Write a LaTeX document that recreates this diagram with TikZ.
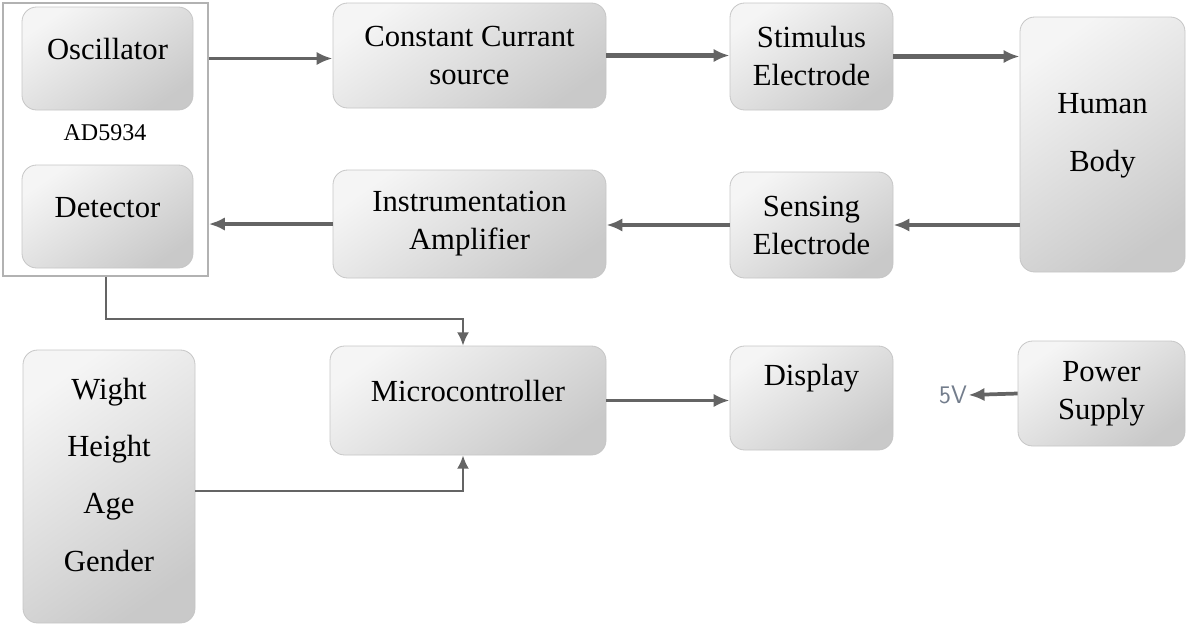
\documentclass[tikz,border=0pt]{standalone}
\usepackage{fontspec}
\setmainfont{Liberation Serif}
\usetikzlibrary{arrows.meta,positioning,calc}
\definecolor{wirecol}{RGB}{100,100,100}
\definecolor{voltcol}{RGB}{115,125,140}

\begin{document}
\begin{tikzpicture}[x=0.75pt,y=-0.75pt,
  box/.style 2 args={minimum width=#1*0.75pt,minimum height=#2*0.75pt},
  wire/.style={draw=wirecol,line width=2.8pt,-{Latex[length=12pt,width=10pt]}},
  heavy/.style={wire,line width=3.6pt},
  thin/.style={draw=wirecol,line width=1.5pt,-{Latex[length=10pt,width=9pt]}}]
\tikzstyle{block}=[rectangle,rounded corners=11pt,draw=gray!45,line width=0.6pt,
  top color=gray!8,bottom color=gray!42,shading angle=35,
  inner sep=2pt,align=center,font=\fontsize{23}{28.5}\selectfont]
\useasboundingbox (0,0) rectangle (1189,626);

% AD5934 chip with its two blocks
\node [box={205}{273},draw=gray!60,line width=1.2pt] (chip) at (105.5,139.5) {};
\node [block,box={171}{103},text depth=14pt] (osc) at (107.5,58.5) {Oscillator};
\node [font=\fontsize{18}{20}\selectfont] (chipname) at (105,133) {AD5934};
\node [block,box={171}{103},text depth=14pt] (det) at (107.5,216.5) {Detector};

% signal path through the body
\node [block,box={273}{105}] (cc) at (469.5,55.5) {Constant Currant\\source};
\node [block,box={163}{107}] (stim) at (811.5,56.5) {Stimulus\\Electrode};
\node [block,box={165}{255},font=\fontsize{23}{43}\selectfont,text depth=18pt] (body) at (1102.5,144.5) {Human\\Body};
\node [block,box={163}{106}] (sens) at (811.5,225) {Sensing\\Electrode};
\node [block,box={273}{108}] (inst) at (469.5,224) {Instrumentation\\Amplifier};

% processing and user data
\node [block,box={276}{109},text depth=14pt] (mcu) at (468,400.5) {Microcontroller};
\node [block,box={163}{104},text depth=34pt] (disp) at (811.5,398) {Display};
\node [block,box={167}{105}] (psu) at (1101.5,393.5) {Power\\Supply};
\node [font=\sffamily\fontsize{19}{20}\selectfont,text=voltcol,inner sep=1pt] (volt) at (953,395) {5V};
\node [block,box={172}{273},font=\fontsize{23}{43}\selectfont,text depth=18pt] (info) at (109,486.5) {Wight\\Height\\Age\\Gender};

% connectors
\draw [wire] (osc -| chip.east) -- (osc -| cc.west);
\draw [heavy] (cc.east) -- (cc.east -| stim.west);
\draw [heavy] (stim.east) -- (stim.east -| body.west);
\draw [wire] (sens.east -| body.west) -- (sens.east);
\draw [wire] (sens.west) -- (sens.west -| inst.east);
\draw [wire] (inst.west) -- (inst.west -| chip.east);
\draw [thin] (chip.south) -- ++(0,42) -| ([xshift=-3.75pt]mcu.north);
\draw [thin] ([yshift=-3pt]info.east) -| ([xshift=-3.75pt]mcu.south);
\draw [wire] (mcu.east) -- (mcu.east -| disp.west);
\draw [wire] (psu.west) -- (volt.east);
\end{tikzpicture}
\end{document}
